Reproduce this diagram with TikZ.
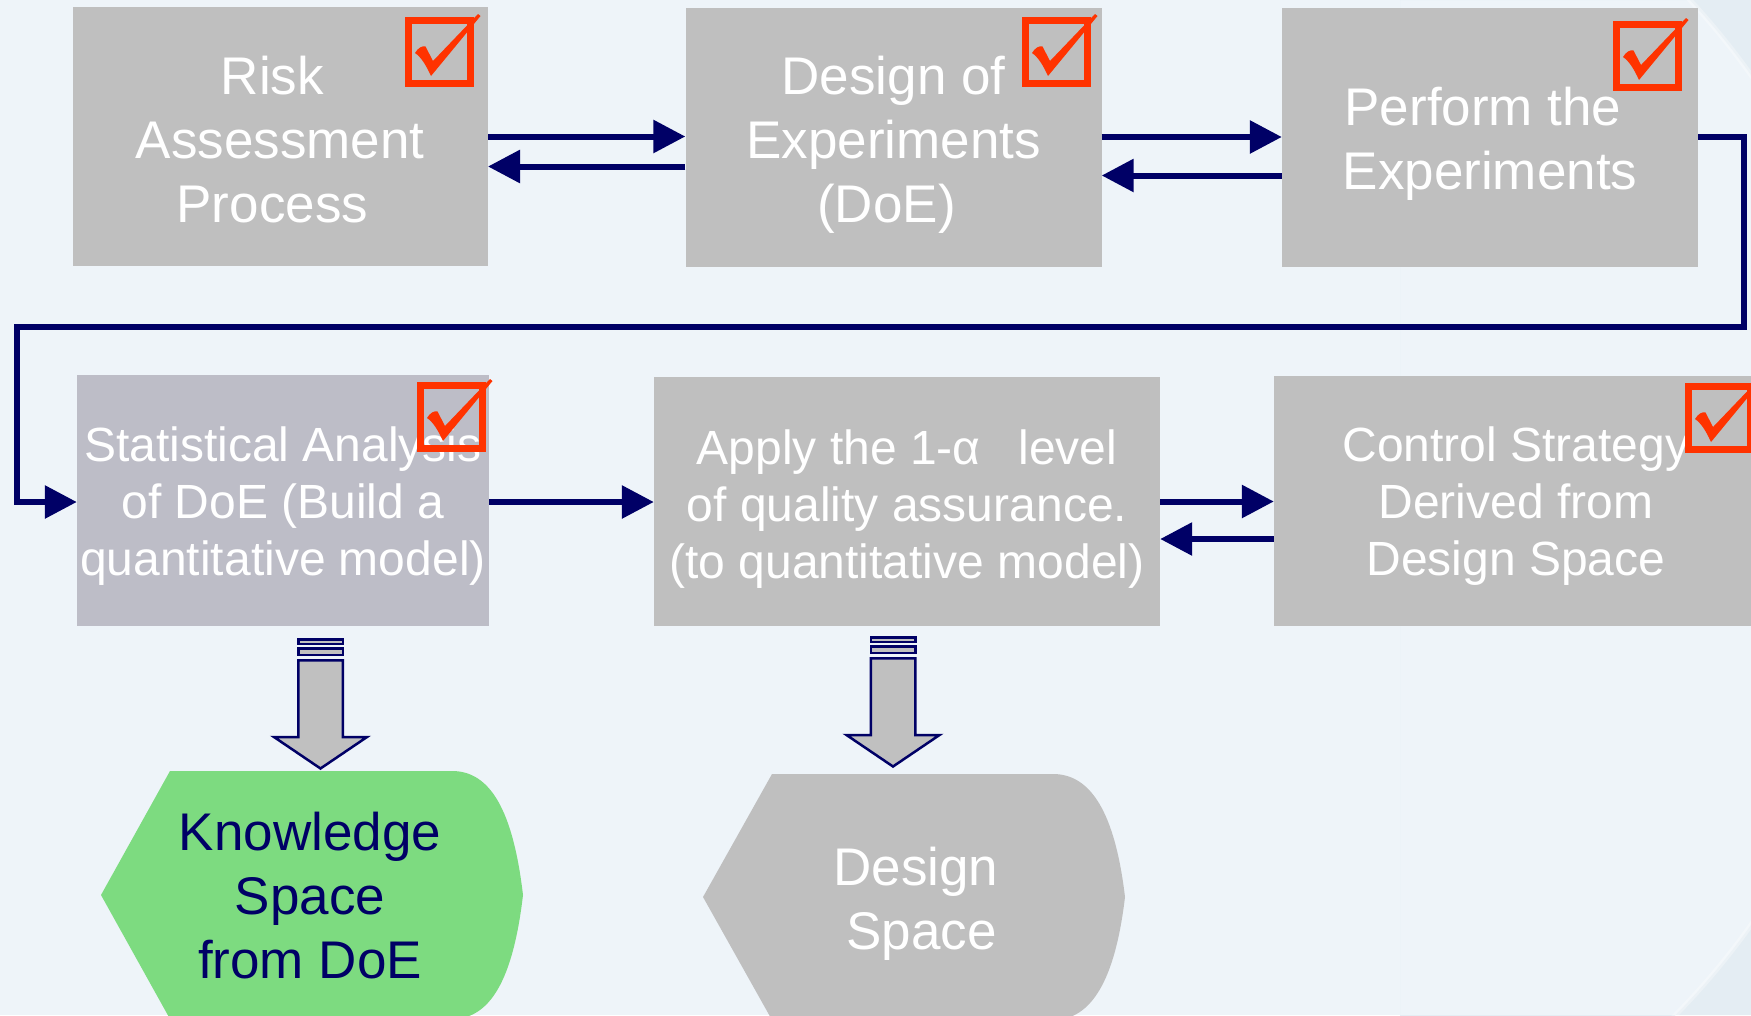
\documentclass[tikz,border=0pt]{standalone}
\usepackage{fontspec}
\setmainfont{Liberation Sans}
\usetikzlibrary{arrows.meta}

\definecolor{bg}{HTML}{EEF4F9}
\definecolor{bgdeep}{HTML}{E4EDF3}
\definecolor{boxgray}{HTML}{BFBFBF}
\definecolor{boxlav}{HTML}{BDBDC7}
\definecolor{navy}{HTML}{000066}
\definecolor{tickred}{HTML}{FF3300}
\definecolor{leaf}{HTML}{7DDB80}
\definecolor{shaftgray}{HTML}{C0C0C0}

\newcommand\toptxt{\fontsize{53pt}{64pt}\selectfont}
\newcommand\midtxt{\fontsize{48pt}{57pt}\selectfont}

% red check box; #1,#2 = outer top-left corner
\newcommand\tickbox[2]{%
  \begin{scope}[shift={(#1,#2)}]
    \draw[tickred, line width=7pt, line join=miter] (3.5,3.5) rectangle (65.5,66.5);
    \fill[tickred] (10,36) .. controls (13,31) and (17,28.5) .. (20.5,29.5)
      -- (28,44) -- (73,-3) -- (75.5,-1) -- (26,59)
      .. controls (21,48) and (16,40) .. (10,36) -- cycle;
  \end{scope}}

% striped block arrow pointing down; #1 = axis x, #2 = top y
\newcommand\downblock[2]{%
  \begin{scope}[shift={(#1,#2)}]
    \filldraw[blockarrow] (-22.25,1.25) rectangle (22.25,5.75);
    \filldraw[blockarrow] (-22.25,10.25) rectangle (22.25,16.75);
    \filldraw[blockarrow] (-22.25,22.25) -- (22.25,22.25) -- (22.25,99) -- (46.5,99)
      -- (0,130.5) -- (-46.5,99) -- (-22.25,99) -- cycle;
  \end{scope}}

\begin{document}
\begin{tikzpicture}[x=1pt, y=-1pt,
  stage/.style={fill=boxgray, inner sep=0pt, align=center, text=white, text depth=0pt},
  conn/.style={draw=navy, line width=6pt, line join=miter,
    -{Triangle[length=32pt,width=32pt]}},
  blockarrow/.style={fill=shaftgray, draw=navy, line width=2.5pt, line join=miter},
  caption/.style={inner sep=0pt, align=center, font=\toptxt, text depth=0pt}]

% page and backdrop
\useasboundingbox (0,0) rectangle (1751,1015);
\fill[bg] (0,0) rectangle (1751,1015);
\begin{scope}
  \clip (1400,0) rectangle (1751,1015);
  \fill[bgdeep, even odd rule] (1400,0) rectangle (1751,1015) (1151.8,500) circle (734.5);
  \draw[white, opacity=0.3, line width=5pt] (1151.8,500) circle (734.5);
\end{scope}

% process steps (text height = cap height + line feeds, measured from the last baseline)
\node[stage, minimum width=415pt, minimum height=259pt, font=\toptxt,
      text height=172pt] (b1) at (280.3,136.5)
      {Risk\kern16pt\\Assessment\\Process\kern16pt};
\node[stage, minimum width=416pt, minimum height=259pt, font=\toptxt,
      text height=171pt] (b2) at (893.5,137)
      {Design of\\Experiments\\(DoE)\kern14pt};
\node[stage, minimum width=416pt, minimum height=259pt, font=\toptxt,
      text height=104pt] (b3) at (1490,137)
      {Perform the\kern14pt\\Experiments};
\node[stage, fill=boxlav, minimum width=412pt, minimum height=251pt, font=\midtxt,
      text height=149pt] (b4) at (283,500.5)
      {Statistical Analysis\\of DoE (Build a\\quantitative model)};
\node[stage, minimum width=506pt, minimum height=249pt, font=\midtxt,
      text height=154pt] (b5) at (907,501.5)
      {Apply the 1-α\hspace{38pt}level\\of quality assurance.\\(to quantitative model)};
\node[stage, minimum width=484pt, minimum height=250pt, font=\midtxt,
      text height=149pt] (b6) at (1516,501)
      {Control Strategy\\Derived from\\Design Space};

% connectors between the steps
\draw[conn] (b1.east) -- (b1.east -| b2.west);
\draw[conn] ([yshift=-29.5pt]b2.west) -- ([yshift=-29.5pt]b2.west -| b1.east);
\draw[conn] (b2.east) -- (b2.east -| b3.west);
\draw[conn] ([yshift=-38.5pt]b3.west) -- ([yshift=-38.5pt]b3.west -| b2.east);
\coordinate (k1) at (1744,327);
\coordinate (k2) at (17,327);
\draw[conn] (b3.east) -| (k1) -- (k2) |- ([yshift=-1.5pt]b4.west);
\draw[conn] ([yshift=-1.5pt]b4.east) -- ([yshift=-1.5pt]b4.east -| b5.west);
\draw[conn] (b5.east) -- (b5.east -| b6.west);
\draw[conn] ([yshift=-38pt]b6.west) -- ([yshift=-38pt]b6.west -| b5.east);

% completed-step marks
\tickbox{405}{17}
\tickbox{1022}{17}
\tickbox{1613}{21}
\tickbox{417}{382}
\tickbox{1685}{383}

% outcomes
\downblock{320.5}{638}
\downblock{893}{636}

\fill[leaf] (101,895) -- (170,771) -- (452,771)
  .. controls (490,771) and (513,810) .. (523,895)
  .. controls (513,980) and (490,1019) .. (452,1019) -- (170,1019) -- cycle;
\node[caption, text=navy, text height=166pt] (ks) at (310,895)
  {Knowledge\\Space\\from DoE};

\fill[boxgray] (703,897) -- (772,774) -- (1053,774)
  .. controls (1091,774) and (1115,813) .. (1125,897)
  .. controls (1115,981) and (1091,1020) .. (1053,1020) -- (772,1020) -- cycle;
\node[caption, text=white, text height=104pt] (ds) at (916,897)
  {Design\\\kern11pt Space};

\end{tikzpicture}
\end{document}
